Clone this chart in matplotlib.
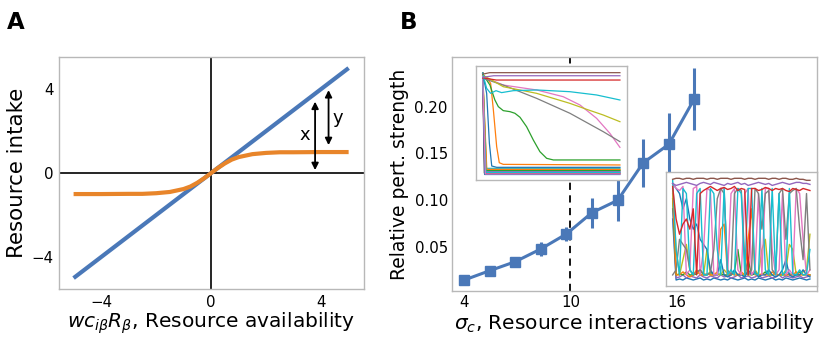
import numpy as np
import matplotlib
matplotlib.use("Agg")
import matplotlib.pyplot as plt

plt.rcParams['font.family'] = ['DejaVu Sans']

# ---------------- Panel A data ----------------
a_lin_x = [-5, 5]
a_lin_y = [-5, 5]
a_sat_x = [-5, -4, -3, -2.5, -2, -1.5, -1, -0.75, -0.5, -0.25, 0, 0.25, 0.5, 0.75, 1, 1.5, 2, 2.5, 3, 4, 5]
a_sat_y = [-1.0, -1.0, -0.99, -0.99, -0.96, -0.9, -0.76, -0.64, -0.46, -0.245, 0.0,
           0.245, 0.46, 0.64, 0.76, 0.9, 0.96, 0.99, 0.99, 1.0, 1.0]
a_ticks = [-4, 0, 4]

# ---------------- Panel B data ----------------
b_sigma = [4.0, 5.44, 6.89, 8.33, 9.78, 11.22, 12.67, 14.11, 15.56, 17.0]
b_strength = [0.0142, 0.0242, 0.0339, 0.0475, 0.0636, 0.0864, 0.0996, 0.1397, 0.1596, 0.2083]
b_err = [0.001, 0.002, 0.002, 0.007, 0.0075, 0.016, 0.022, 0.026, 0.033, 0.033]
b_xticks = [4, 10, 16]
b_yticks = [0.05, 0.10, 0.15, 0.20]

# ---------------- Inset 1 (relaxing dynamics) ----------------
i1_brown_t = [0, 5, 100];            i1_brown_v = [0.985, 1.0, 1.0]
i1_purple_t = [0, 8, 100];           i1_purple_v = [0.955, 0.97, 0.97]
i1_red_t = [0, 10, 100];             i1_red_v = [0.95, 0.928, 0.928]
i1_cyan_t = [0, 2.9, 5.8, 9.7, 13.8, 22.3, 39.3, 63.6, 83, 100]
i1_cyan_v = [0.993, 0.847, 0.798, 0.824, 0.805, 0.824, 0.831, 0.814, 0.782, 0.733]
i1_olive_t = [0, 15, 39.3, 63.6, 75.7, 87.9, 100]
i1_olive_v = [0.977, 0.863, 0.798, 0.70, 0.642, 0.586, 0.521]
i1_gray_t = [0, 15, 39.3, 63.6, 87.9, 100]
i1_gray_v = [0.945, 0.879, 0.749, 0.603, 0.423, 0.326]
i1_pink_t = [0, 15, 39.3, 58.7, 70.9, 83, 92.7, 100]
i1_pink_v = [0.961, 0.879, 0.831, 0.765, 0.684, 0.554, 0.407, 0.27]
i1_green_t = [0, 2.9, 5.3, 8.9, 11.4, 15, 19.9, 23.5, 27.2, 32, 36.9, 41.7, 46.6, 51.5, 100]
i1_green_v = [0.993, 0.928, 0.879, 0.733, 0.668, 0.629, 0.619, 0.603, 0.564, 0.472, 0.342,
              0.228, 0.163, 0.147, 0.147]
i1_orange_t = [0, 4.1, 5.8, 7.8, 10.2, 12.1, 15, 100]
i1_orange_v = [0.977, 0.928, 0.896, 0.635, 0.277, 0.12, 0.104, 0.098]
i1_blue_t = [0, 2.9, 4.9, 6.6, 10.2, 100]
i1_blue_v = [0.993, 0.798, 0.309, 0.088, 0.075, 0.075]
# fast-decaying species: drop time and final level
i1_fast_colors = ['#17becf', '#7f7f7f', '#bcbd22', '#e377c2', '#8c564b', '#9467bd',
                  '#d62728', '#2ca02c', '#ff7f0e', '#1f77b4', '#17becf', '#e377c2']
i1_fast_drop = [2.0, 1.5, 2.5, 1.8, 1.2, 2.2, 1.6, 2.8, 3.0, 1.4, 2.4, 1.9]
i1_fast_end = [0.065, 0.04, 0.05, 0.03, 0.02, 0.035, 0.015, 0.045, 0.055, 0.005, 0.025, 0.01]

# ---------------- Inset 2 (chaotic dynamics) ----------------
i2_brown = [.99, 1.0, 1.0, .99, 1.0, 1.0, .99, 1.0, 1.0, 1.0, .99, 1.0, 1.0, .99, 1.0, 1.0, 1.0, .99, 1.0, 1.0,
            1.0, .99, 1.0, 1.0, .99, 1.0, 1.0, 1.0, .99, 1.0, 1.0, .99, 1.0, 1.0, .99, .99, 1.0, .99, .99, .98, .98]
i2_purple = [.95, .93, .94, .95, .96, .95, .94, .93, .95, .96, .95, .94, .96, .95, .94, .93, .95, .94, .95, .96,
             .94, .95, .93, .94, .95, .96, .95, .94, .95, .93, .94, .95, .96, .95, .94, .95, .96, .96, .95, .95, .94]
i2_red = [.92, .6, .45, .55, .6, .5, .7, .05, .85, .88, .9, .92, .9, .88, .9, .91, .89, .9, .92, .88,
          .9, .89, .05, .9, .9, .88, .89, .91, .9, .88, .9, .89, .9, .88, .87, .9, .89, .88, .9, .89, .88]
i2_gray = [.05, .1, .4, .35, .3, .1, .05, .08, .1, .06, .05, .07, .3, .8, .9, .85, .1, .05, .85, .9,
           .88, .2, .05, .1, .9, .85, .5, .85, .88, .1, .06, .85, .9, .4, .85, .88, .9, .5, .2, .85, .1]
i2_cyan = [.98, .3, .05, .9, .85, .1, .05, .85, .9, .05, .05, .9, .85, .3, .05, .9, .05, .1, .05, .9,
           .85, .05, .9, .9, .06, .05, .9, .1, .05, .9, .05, .85, .05, .08, .9, .06, .05, .1, .05, .06, .3]
i2_pink = [.95, .9, .88, .92, .05, .1, .9, .92, .05, .3, .9, .88, .05, .05, .9, .9, .05, .85, .9, .1,
           .05, .85, .9, .05, .1, .85, .05, .9, .9, .3, .05, .1, .85, .05, .1, .05, .9, .85, .4, .05, .1]
i2_blue = [.95, .9, .85, .7, .8, .6, .5, .55, .4, .35, .3, .1, .05, .05, .2, .05, .03, .05, .1, .05,
           .05, .03, .1, .05, .08, .03, .05, .05, .1, .05, .03, .05, .1, .2, .05, .03, .05, .05, .1, .05, .03]
i2_orange = [.9, .05, .05, .08, .05, .03, .05, .1, .05, .05, .06, .05, .05, .08, .5, .55, .05, .06, .05, .05,
             .08, .05, .4, .7, .05, .05, .06, .05, .05, .08, .05, .05, .06, .05, .05, .05, .08, .05, .05, .06, .05]
i2_olive = [.85, .3, .05, .2, .35, .1, .05, .08, .06, .05, .3, .05, .05, .06, .05, .1, .06, .05, .08, .05,
            .05, .06, .05, .05, .1, .05, .3, .4, .05, .05, .06, .05, .05, .1, .35, .3, .05, .05, .08, .1, .45]
i2_green = [.8, .05, .06, .05, .08, .05, .05, .06, .1, .05, .05, .08, .05, .05, .06, .05, .05, .05, .08, .3,
            .05, .05, .2, .05, .06, .05, .05, .08, .05, .05, .06, .05, .05, .05, .06, .05, .05, .08, .05, .05, .05]
i2_low1 = [.7, .02, .03, .05, .02, .04, .03, .02, .05, .03, .02, .04, .03, .02, .05, .03, .04, .02, .03, .05,
           .02, .03, .04, .02, .03, .05, .02, .03, .04, .02, .03, .05, .02, .04, .03, .02, .03, .04, .02, .03, .04]
i2_low2 = [.6, .0, .01, .0, .02, .01, .0, .01, .02, .0, .01, .0, .02, .01, .0, .01, .0, .02, .01, .0,
           .01, .02, .0, .01, .0, .02, .01, .0, .01, .02, .0, .01, .0, .02, .01, .0, .01, .02, .01, .0, .01]

BLUE = '#4a78b8'
ORANGE = '#e8852a'
SPINE = '#b8b8b8'

fig = plt.figure(figsize=(8.3, 3.41), dpi=100)

# ================= Panel A =================
axA = fig.add_axes([0.0711, 0.1525, 0.3675, 0.680])
axA.axhline(0, color='black', lw=1.2, zorder=1)
axA.axvline(0, color='black', lw=1.2, zorder=1)
axA.plot(a_lin_x, a_lin_y, color=BLUE, lw=3.0, solid_capstyle='butt', zorder=3)
axA.plot(a_sat_x, a_sat_y, color=ORANGE, lw=3.0, solid_capstyle='butt', zorder=3)
axA.set_xlim(-5.53, 5.56)
axA.set_ylim(-5.52, 5.52)
axA.set_xticks(a_ticks)
axA.set_yticks(a_ticks)
axA.tick_params(length=0, labelsize=10.8, pad=4)
for s in axA.spines.values():
    s.set_color(SPINE)
    s.set_linewidth(1.0)
axA.set_xlabel(r'$wc_{i\beta}R_{\beta}$, Resource availability', fontsize=14.5, labelpad=1)
axA.set_ylabel('Resource intake', fontsize=15.4, labelpad=3)
arrow_kw = dict(arrowstyle='<|-|>', color='black', lw=1.3, mutation_scale=10, shrinkA=0, shrinkB=0)
axA.annotate('', xy=(3.78, 3.4), xytext=(3.78, 0.14), arrowprops=arrow_kw, zorder=4)
axA.annotate('', xy=(4.27, 3.95), xytext=(4.27, 1.33), arrowprops=arrow_kw, zorder=4)
axA.text(3.42, 1.81, 'x', fontsize=13, ha='center', va='center')
axA.text(4.62, 2.62, 'y', fontsize=13, ha='center', va='center')

# ================= Panel B =================
axB = fig.add_axes([0.5446, 0.1466, 0.4398, 0.686])
axB.axvline(10, color='black', lw=1.3, ls=(0, (4, 3)), zorder=1)
axB.errorbar(b_sigma, b_strength, yerr=b_err, color=BLUE, lw=2.2, elinewidth=2.2,
             marker='s', markersize=6.8, capsize=0, zorder=3)
axB.set_xlim(3.32, 23.93)
axB.set_ylim(0.0025, 0.253)
axB.set_xticks(b_xticks)
axB.set_yticks(b_yticks)
axB.set_yticklabels([f'{v:.2f}' for v in b_yticks])
axB.tick_params(length=0, labelsize=10.8, pad=3)
for s in axB.spines.values():
    s.set_color(SPINE)
    s.set_linewidth(1.0)
axB.set_xlabel(r'$\sigma_c$, Resource interactions variability', fontsize=14.5, labelpad=1)
axB.set_ylabel('Relative pert. strength', fontsize=13.5, labelpad=4)

# ---- Inset 1 ----
in1 = fig.add_axes([0.5731, 0.4721, 0.1819, 0.3343])
lw_in = 0.9
for (c, d, e) in zip(i1_fast_colors, i1_fast_drop, i1_fast_end):
    in1.plot([0, d, 100], [0.995, e, e], color=c, lw=lw_in)
in1.plot(i1_blue_t, i1_blue_v, color='#1f77b4', lw=lw_in)
in1.plot(i1_orange_t, i1_orange_v, color='#ff7f0e', lw=lw_in)
in1.plot(i1_green_t, i1_green_v, color='#2ca02c', lw=lw_in)
in1.plot(i1_pink_t, i1_pink_v, color='#e377c2', lw=lw_in)
in1.plot(i1_gray_t, i1_gray_v, color='#7f7f7f', lw=lw_in)
in1.plot(i1_olive_t, i1_olive_v, color='#bcbd22', lw=lw_in)
in1.plot(i1_cyan_t, i1_cyan_v, color='#17becf', lw=lw_in)
in1.plot(i1_red_t, i1_red_v, color='#d62728', lw=lw_in)
in1.plot(i1_purple_t, i1_purple_v, color='#9467bd', lw=lw_in)
in1.plot(i1_brown_t, i1_brown_v, color='#8c564b', lw=lw_in)
in1.set_xlim(-5.1, 104.9)
in1.set_ylim(-0.049, 1.065)
in1.set_xticks([]); in1.set_yticks([])
for s in in1.spines.values():
    s.set_color(SPINE)
    s.set_linewidth(1.0)

# ---- Inset 2 ----
in2 = fig.add_axes([0.802, 0.1613, 0.1819, 0.3352])
series2 = [(i2_low2, '#1f77b4'), (i2_low1, '#9467bd'), (i2_green, '#2ca02c'), (i2_olive, '#bcbd22'),
           (i2_orange, '#ff7f0e'), (i2_blue, '#1f77b4'), (i2_pink, '#e377c2'), (i2_gray, '#7f7f7f'),
           (i2_cyan, '#17becf'), (i2_red, '#d62728'), (i2_purple, '#9467bd'), (i2_brown, '#8c564b')]
for vals, c in series2:
    in2.plot(np.arange(len(vals)), vals, color=c, lw=1.0)
in2.set_xlim(-2.04, 41.95)
in2.set_ylim(-0.059, 1.065)
in2.set_xticks([]); in2.set_yticks([])
for s in in2.spines.values():
    s.set_color(SPINE)
    s.set_linewidth(1.0)

# panel letters
fig.text(0.008, 0.914, 'A', fontsize=16.5, fontweight='bold', va='baseline')
fig.text(0.482, 0.914, 'B', fontsize=16.5, fontweight='bold', va='baseline')

fig.savefig('out.png', dpi=100)
